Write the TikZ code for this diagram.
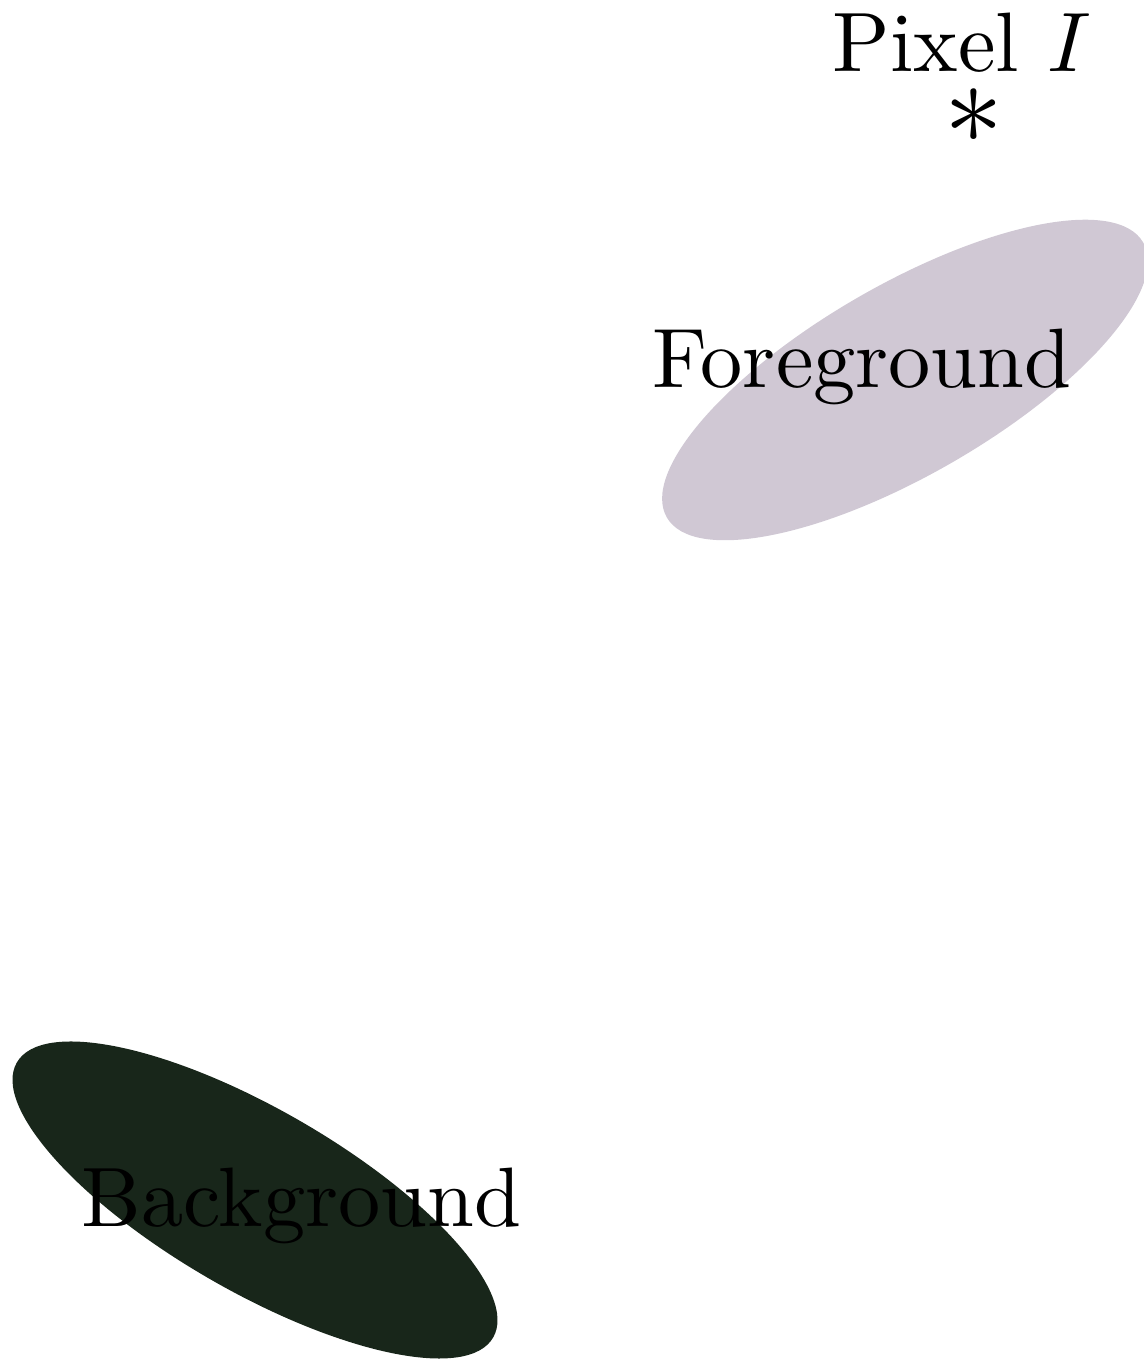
\documentclass[tikz,border=0pt]{standalone}
\definecolor{fgcol}{RGB}{208,200,212}
\definecolor{bgcol}{RGB}{24,38,26}
\begin{document}
\begin{tikzpicture}
\tikzset{lbl/.style={inner sep=0pt, anchor=base west, scale=4.8}}
\useasboundingbox (0,0) rectangle (22.86,27.2);
\fill[fgcol, rotate around={30:(18.1,19.6)}] (18.1,19.6) ellipse [x radius=5.5cm, y radius=1.9cm];
\fill[bgcol, rotate around={-30:(5.1,3.2)}] (5.1,3.2) ellipse [x radius=5.5cm, y radius=1.82cm];
\node[lbl] (fg) at (13.02,19.44) {Foreground};
\node[lbl] (bg) at (1.6,2.66) {Background};
\node[lbl] (pix) at (16.62,25.76) {Pixel $I$};
\node[inner sep=0pt, scale=6.7] (star) at (19.47,24.88) {$\ast$};
\end{tikzpicture}
\end{document}
